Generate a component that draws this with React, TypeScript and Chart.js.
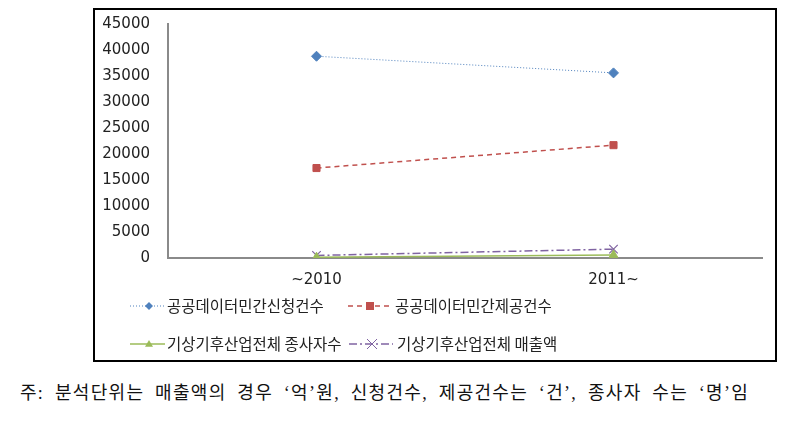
import React, { useEffect, useRef } from "react";
import { Chart, registerables } from "chart.js";

Chart.register(...registerables);

const categories = ["~2010", "2011~"];
const seriesNames = [
  "공공데이터민간신청건수",
  "공공데이터민간제공건수",
  "기상기후산업전체 종사자수",
  "기상기후산업전체 매출액",
];
const applications = [38800, 35600];
const provided = [17300, 21700];
const employees = [150, 600];
const sales = [500, 1700];
const yTicks = [0, 5000, 10000, 15000, 20000, 25000, 30000, 35000, 40000, 45000];

const colors = ["#4F81BD", "#C0504D", "#9BBB59", "#8064A2"];
const dashes = [[1, 2], [5, 4], [], [8, 3, 2, 3]];
const pointStyles = ["rectRot", "rect", "triangle", "crossRot"];
const pointRadii = [5, 5, 5, 6];

const legendPlugin = {
  id: "customLegend",
  afterDraw(chart: any) {
    const ctx = chart.ctx;
    const items = [
      { x0: 35, x1: 70, mx: 54, tx: 72, y: 296 },
      { x0: 253, x1: 296, mx: 275, tx: 300, y: 296 },
      { x0: 35, x1: 70, mx: 54, tx: 72, y: 334 },
      { x0: 254, x1: 298, mx: 277, tx: 302, y: 334 },
    ];
    items.forEach((it, i) => {
      ctx.save();
      ctx.strokeStyle = colors[i];
      ctx.lineWidth = i === 0 ? 1 : 1.5;
      ctx.setLineDash(dashes[i]);
      ctx.beginPath();
      ctx.moveTo(it.x0, it.y);
      ctx.lineTo(it.x1, it.y);
      ctx.stroke();
      ctx.setLineDash([]);
      ctx.fillStyle = colors[i];
      ctx.strokeStyle = colors[i];
      ctx.lineWidth = 1;
      const r = pointRadii[i] - 1;
      const style = pointStyles[i];
      ctx.beginPath();
      if (style === "rectRot") {
        ctx.moveTo(it.mx, it.y - r);
        ctx.lineTo(it.mx + r, it.y);
        ctx.lineTo(it.mx, it.y + r);
        ctx.lineTo(it.mx - r, it.y);
        ctx.closePath();
        ctx.fill();
      } else if (style === "rect") {
        ctx.rect(it.mx - r, it.y - r, 2 * r, 2 * r);
        ctx.fill();
      } else if (style === "triangle") {
        ctx.moveTo(it.mx, it.y - r);
        ctx.lineTo(it.mx + r, it.y + r * 0.7);
        ctx.lineTo(it.mx - r, it.y + r * 0.7);
        ctx.closePath();
        ctx.fill();
      } else {
        ctx.moveTo(it.mx - r, it.y - r);
        ctx.lineTo(it.mx + r, it.y + r);
        ctx.moveTo(it.mx + r, it.y - r);
        ctx.lineTo(it.mx - r, it.y + r);
        ctx.stroke();
      }
      ctx.fillStyle = "#222";
      ctx.font = '15.5px "Noto Sans CJK KR", sans-serif';
      ctx.textBaseline = "middle";
      ctx.textAlign = "left";
      ctx.fillText(seriesNames[i], it.tx, it.y);
      ctx.restore();
    });
  },
};

export default function App() {
  const ref = useRef<HTMLCanvasElement>(null);
  useEffect(() => {
    if (!ref.current) return;
    const series = [applications, provided, employees, sales];
    const chart = new Chart(ref.current, {
      type: "line",
      data: {
        labels: categories,
        datasets: series.map((d, i) => ({
          label: seriesNames[i],
          data: d,
          borderColor: colors[i],
          backgroundColor: colors[i],
          borderWidth: i === 0 ? 1 : 1.5,
          borderDash: dashes[i],
          pointStyle: pointStyles[i] as any,
          pointRadius: pointRadii[i],
          pointBorderWidth: i === 3 ? 1.2 : 1,
          fill: false,
          tension: 0,
        })),
      },
      options: {
        responsive: false,
        devicePixelRatio: 1,
        animation: false,
        layout: { padding: { left: 0, right: 13, top: 14, bottom: 0 } },
        plugins: { legend: { display: false }, tooltip: { enabled: false } },
        scales: {
          x: {
            offset: true,
            grid: { color: "rgba(0,0,0,0)", drawTicks: false },
            border: { display: true, color: "#8a8a8a", width: 2 },
            ticks: {
              padding: 13,
              color: "#222",
              font: { family: '"DejaVu Sans", sans-serif', size: 15 },
            },
            afterFit: (axis: any) => {
              axis.height = 102;
              axis.paddingLeft = 0;
              axis.paddingRight = 0;
            },
          },
          y: {
            min: 0,
            max: 45000,
            grid: { color: "rgba(0,0,0,0)", drawTicks: false },
            border: { display: true, color: "#8a8a8a", width: 2 },
            afterBuildTicks: (axis: any) => {
              axis.ticks = yTicks.map((v) => ({ value: v }));
            },
            ticks: {
              padding: 18,
              color: "#222",
              font: { family: '"DejaVu Sans", sans-serif', size: 15 },
              callback: (v: any) => String(v),
            },
            afterFit: (axis: any) => {
              axis.width = 73;
              axis.paddingTop = 0;
              axis.paddingBottom = 0;
            },
          },
        },
      },
      plugins: [legendPlugin],
    });
    return () => chart.destroy();
  }, []);

  return (
    <div style={{ position: "absolute", left: 0, top: 0, width: 809, height: 426, background: "#fff" }}>
      <div
        style={{
          position: "absolute",
          left: 93,
          top: 8,
          width: 684,
          height: 354,
          border: "2px solid #000",
          boxSizing: "border-box",
        }}
      />
      <canvas
        ref={ref}
        width={680}
        height={350}
        style={{ position: "absolute", left: 95, top: 10, width: 680, height: 350 }}
      />
      <div
        style={{
          position: "absolute",
          left: 20,
          top: 381,
          whiteSpace: "nowrap",
          fontFamily: 'serif, "Noto Sans CJK KR"',
          fontSize: 18,
          letterSpacing: "1.3px",
          wordSpacing: "5px",
          lineHeight: "24px",
          color: "#111",
        }}
      >
        주: 분석단위는 매출액의 경우 ‘억’원, 신청건수, 제공건수는 ‘건’, 종사자 수는 ‘명’임
      </div>
    </div>
  );
}
